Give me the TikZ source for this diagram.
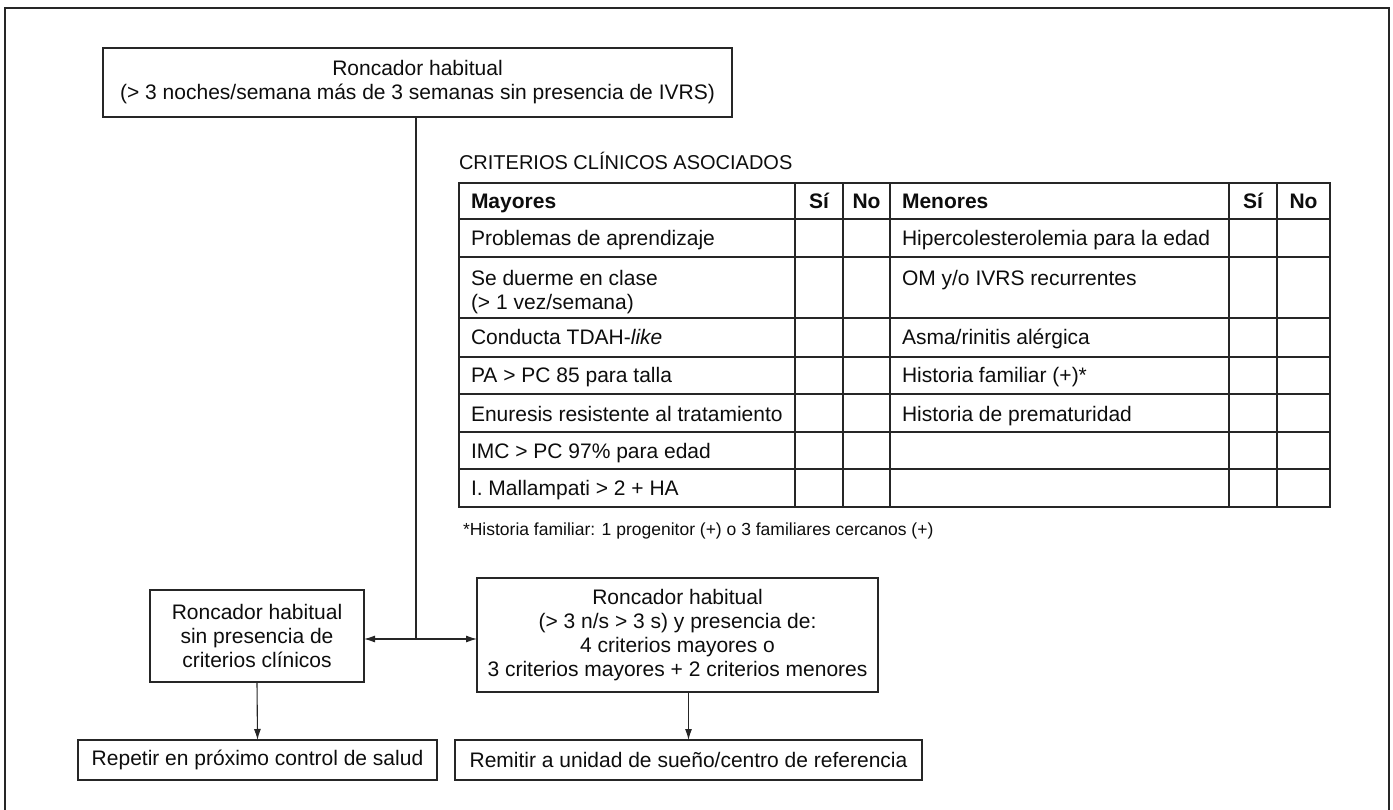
\documentclass[tikz,border=0pt]{standalone}
\usepackage{fontspec}
\setmainfont{Liberation Sans}
\usetikzlibrary{arrows.meta}
\begin{document}
\begin{tikzpicture}[x=1pt,y=-1pt,
  every node/.style={inner sep=0pt, outer sep=0pt, text=black!95},
  box/.style={draw=black!85, line width=1.1pt, align=center, font=\fontsize{21}{24}\selectfont},
  cell/.style={anchor=base west, font=\fontsize{21}{24}\selectfont},
  hcell/.style={anchor=base, font=\bfseries\fontsize{21}{24}\selectfont},
  arr/.style={draw=black!85, line width=1.1pt, -{Latex[length=11pt,width=7pt]}},
  ln/.style={draw=black!85, line width=1.1pt}
]
\useasboundingbox (0,0) rectangle (1393,810);
% outer frame
\draw[draw=black!85, line width=1.5pt] (5,8) rectangle (1389,815);

% flowchart boxes
\node[box, minimum width=629pt, minimum height=69pt] (top) at (417.5,82.5)
  {Roncador habitual\\(> 3 noches/semana más de 3 semanas sin presencia de IVRS)};
\node[box, minimum width=214pt, minimum height=92pt] (left) at (257,636)
  {Roncador habitual\\sin presencia de\\criterios clínicos};
\node[box, minimum width=401pt, minimum height=114pt] (right) at (677.5,635)
  {Roncador habitual\\(> 3 n/s > 3 s) y presencia de:\\4 criterios mayores o\\3 criterios mayores + 2 criterios menores};
\node[box, minimum width=359pt, minimum height=40pt] (rep) at (257.5,760)
  {Repetir en próximo control de salud};
\node[box, minimum width=467pt, minimum height=40pt] (rem) at (688.5,760)
  {Remitir a unidad de sueño/centro de referencia};

% connectors
\coordinate (j) at (416,639);
\draw[ln] (top.south -| j) -- (j);
\draw[arr] (j) -- (j -| left.east);
\draw[arr] (j) -- (j -| right.west);
\draw[arr] (left.south) -- (rep.north);
\draw[arr] (right.south -| rem.north) -- (rem.north);

% table title
\node[anchor=base west, font=\fontsize{20}{24}\selectfont] (title) at (459,170) {CRITERIOS CLÍNICOS ASOCIADOS};

% table grid
\draw[ln] (459,183) rectangle (1330,507);
\foreach \yy in {219,257,318,357,394,432,469} \draw[ln] (459,\yy) -- (1330,\yy);
\foreach \xx in {795,843,890,1229,1277} \draw[ln] (\xx,183) -- (\xx,507);

% header
\node[cell, font=\bfseries\fontsize{21}{24}\selectfont] (hmay) at (471,208.5) {Mayores};
\node[hcell] (hsi1) at (819,208.5) {Sí};
\node[hcell] (hno1) at (866.5,208.5) {No};
\node[cell, font=\bfseries\fontsize{21}{24}\selectfont] (hmen) at (902,208.5) {Menores};
\node[hcell] (hsi2) at (1253,208.5) {Sí};
\node[hcell] (hno2) at (1303.5,208.5) {No};

% Mayores
\node[cell] (m1) at (471,245.5) {Problemas de aprendizaje};
\node[cell] (m2a) at (471,286) {Se duerme en clase};
\node[cell] (m2b) at (471,310) {(> 1 vez/semana)};
\node[cell] (m3) at (471,345) {Conducta TDAH-\textit{like}};
\node[cell] (m4) at (471,383) {PA > PC 85 para talla};
\node[cell] (m5) at (471,421) {Enuresis resistente al tratamiento};
\node[cell] (m6) at (471,458) {IMC > PC 97\% para edad};
\node[cell] (m7) at (471,495.5) {I. Mallampati > 2 + HA};

% Menores
\node[cell] (n1) at (902,245.5) {Hipercolesterolemia para la edad};
\node[cell] (n2) at (902,286) {OM y/o IVRS recurrentes};
\node[cell] (n3) at (902,345) {Asma/rinitis alérgica};
\node[cell] (n4) at (902,383) {Historia familiar (+)*};
\node[cell] (n5) at (902,421) {Historia de prematuridad};

% footnote
\node[anchor=base west, font=\fontsize{17.5}{20}\selectfont] (foot) at (463,535)
  {*Historia familiar: 1 progenitor (+) o 3 familiares cercanos (+)};
\end{tikzpicture}
\end{document}
